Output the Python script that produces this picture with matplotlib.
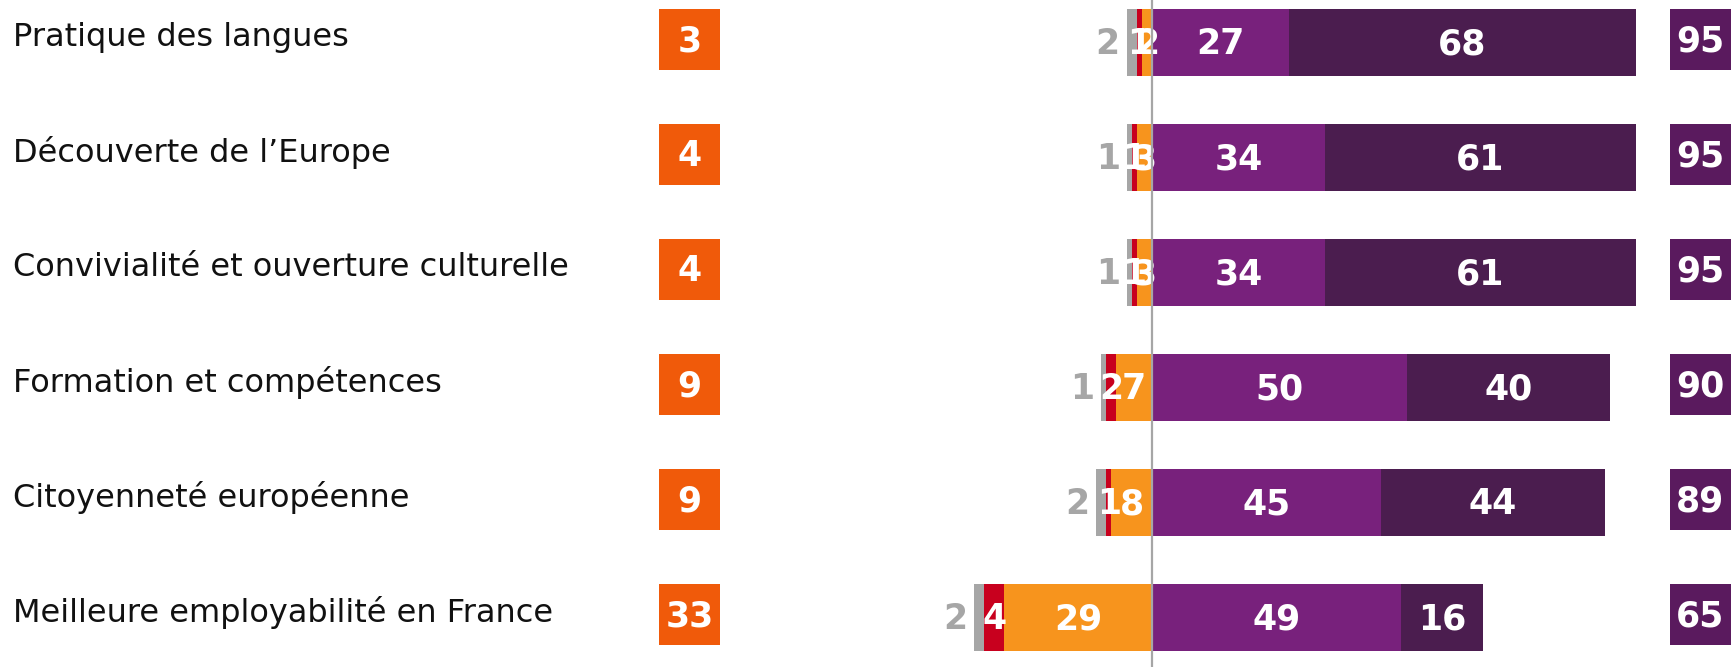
import matplotlib
matplotlib.use("Agg")
import matplotlib.pyplot as plt
from matplotlib.patches import Rectangle
import matplotlib.transforms as mtransforms

categories = [
    "Pratique des langues",
    "Découverte de l’Europe",
    "Convivialité et ouverture culturelle",
    "Formation et compétences",
    "Citoyenneté européenne",
    "Meilleure employabilité en France",
]
neg_grey = [2, 1, 1, 1, 2, 2]
neg_red = [1, 1, 1, 2, 1, 4]
neg_orange = [2, 3, 3, 7, 8, 29]
pos_light = [27, 34, 34, 50, 45, 49]
pos_dark = [68, 61, 61, 40, 44, 16]
total_neg = [3, 4, 4, 9, 9, 33]
total_pos = [95, 95, 95, 90, 89, 65]

C_GREY = "#A6A6A6"
C_RED = "#C8001E"
C_ORANGE = "#F7941D"
C_LIGHT = "#78217C"
C_DARK = "#4B1D4F"
C_BOX_NEG = "#F05A0A"
C_BOX_POS = "#5A1A5E"

W, H = 1733, 667
DPI = 100
fig = plt.figure(figsize=(W / DPI, H / DPI), dpi=DPI)
ax = fig.add_axes([0, 0, 1, 1])
ax.axis("off")

PX_PER_UNIT = 5.09
ZERO_PX = 1152
ax.set_xlim(-ZERO_PX / PX_PER_UNIT, (W - ZERO_PX) / PX_PER_UNIT)
ROW_PX = 115
TOP_PX = 42.5
ax.set_ylim((H - TOP_PX) / ROW_PX, -TOP_PX / ROW_PX)

n = len(categories)
ys = list(range(n))
bh = 0.587
FS = 23
bold = dict(fontsize=25, fontweight="bold", family="DejaVu Sans")
dy = 0.015

for i in range(n):
    y = ys[i]
    o = neg_orange[i]
    r = neg_red[i]
    g = neg_grey[i]
    ax.barh(y, -o, left=0, height=bh, color=C_ORANGE, edgecolor="none")
    ax.barh(y, -r, left=-o, height=bh, color=C_RED, edgecolor="none")
    ax.barh(y, -g, left=-o - r, height=bh, color=C_GREY, edgecolor="none")
    a = pos_light[i]
    d = pos_dark[i]
    ax.barh(y, a, left=0, height=bh, color=C_LIGHT, edgecolor="none")
    ax.barh(y, d, left=a, height=bh, color=C_DARK, edgecolor="none")

    ax.text(-o / 2, y + dy, str(o), color="white", ha="center", va="center", **bold)
    ax.text(-o - r / 2, y + dy, str(r), color="white", ha="center", va="center", **bold)
    ax.text(-o - r - g - 3.7, y + dy, str(g), color=C_GREY, ha="center", va="center", **bold)
    ax.text(a / 2, y + dy, str(a), color="white", ha="center", va="center", **bold)
    ax.text(a + d / 2, y + dy, str(d), color="white", ha="center", va="center", **bold)

# zero line
ax.axvline(0, color=C_GREY, linewidth=1.6, zorder=5)

# category labels and summary boxes (x in figure fraction, y in data)
trans = mtransforms.blended_transform_factory(fig.transFigure, ax.transData)
box_h = 61 / ROW_PX
for i in range(n):
    y = ys[i]
    ax.text(13 / W, y - 0.04, categories[i], transform=trans, ha="left", va="center",
            fontsize=FS, color="#111111", family="DejaVu Sans")
    yc = y - 3 / ROW_PX
    ax.add_patch(Rectangle((659 / W, yc - box_h / 2), 61 / W, box_h, transform=trans,
                           facecolor=C_BOX_NEG, edgecolor="none"))
    ax.text(689.5 / W, yc + dy, str(total_neg[i]), transform=trans, color="white",
            ha="center", va="center", **bold)
    ax.add_patch(Rectangle((1670 / W, yc - box_h / 2), 61 / W, box_h, transform=trans,
                           facecolor=C_BOX_POS, edgecolor="none"))
    ax.text(1700.5 / W, yc + dy, str(total_pos[i]), transform=trans, color="white",
            ha="center", va="center", **bold)

fig.savefig("out.png", dpi=DPI)
